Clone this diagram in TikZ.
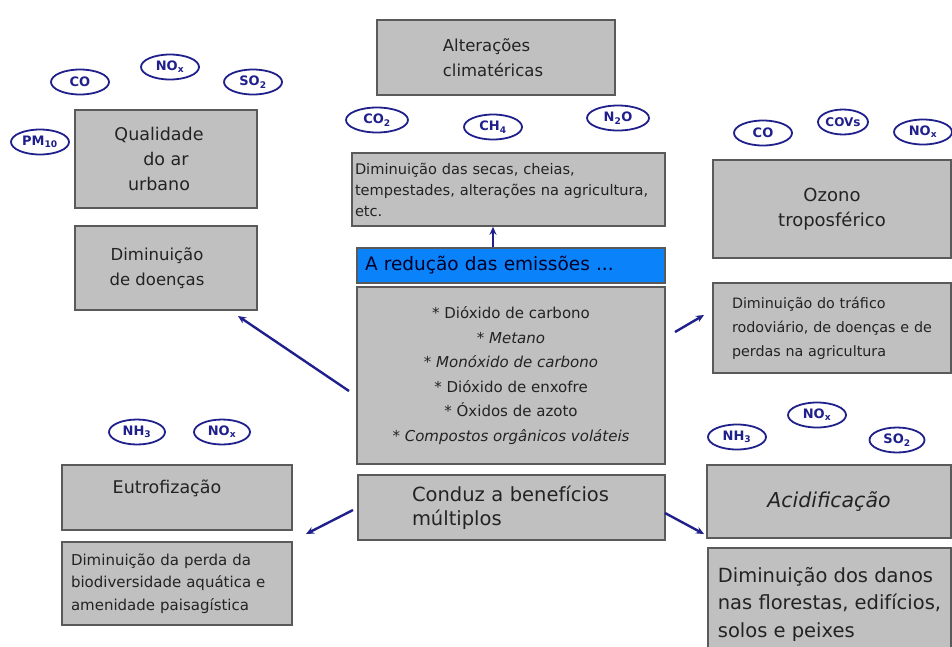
\documentclass[tikz,border=0pt]{standalone}
\usepackage{fontspec}
\setmainfont{DejaVu Sans}
\usetikzlibrary{shapes.geometric,arrows.meta}
\definecolor{boxgray}{RGB}{192,192,192}
\definecolor{boxline}{RGB}{90,90,90}
\definecolor{navy}{RGB}{32,32,140}
\definecolor{skyblue}{RGB}{10,130,250}
\definecolor{txt}{RGB}{35,35,35}
\tikzset{
  box/.style={draw=boxline, fill=boxgray, line width=1.6pt, inner sep=4pt, text=txt, align=center},
  gas/.style={ellipse, draw=navy, fill=white, line width=1.8pt, minimum width=58pt, minimum height=25pt, inner sep=0pt, text=navy, font=\fontsize{13}{14}\selectfont\bfseries},
  link/.style={draw=navy, line width=2.4pt, -{Stealth[length=8pt,width=7pt]}}
}
\begin{document}
\begin{tikzpicture}[x=1pt,y=-1pt]
\useasboundingbox (0,0) rectangle (952,646);
% boxes
\node[box, minimum width=182pt, minimum height=98pt, font=\fontsize{17.5}{25}\selectfont] (qual) at (166,159) {Qualidade\hspace*{14pt}\\do ar\hspace*{14pt}\\urbano\hspace*{14pt}};
\node[box, minimum width=182pt, minimum height=84pt, font=\fontsize{16.5}{25}\selectfont] (doenc) at (166,268) {Diminuição\hspace*{18pt}\\de doenças\hspace*{18pt}};
\node[box, minimum width=238pt, minimum height=75pt, align=left, font=\fontsize{16.5}{25}\selectfont] (alt) at (496,57.5) {\hspace*{-6pt}Alterações\\\hspace*{-6pt}climatéricas};
\node[box, minimum width=313pt, minimum height=73pt, text width=307pt, inner sep=3pt, align=left, font=\fontsize{14.6}{21}\selectfont] (secas) at (508.5,189.5) {Diminuição das secas, cheias,\\tempestades, alterações na agricultura,\\etc.};
\node[box, fill=skyblue, minimum width=308pt, minimum height=35pt, text width=292pt, align=left, font=\fontsize{18.5}{20}\selectfont, text=black!85!blue] (blue) at (511,265.5) {A redução das emissões ...};
\node[box, minimum width=308pt, minimum height=177pt, font=\fontsize{15}{24.5}\selectfont] (list) at (511,375.5) {* Dióxido de carbono\\\itshape * Metano\\\itshape * Monóxido de carbono\\* Dióxido de enxofre\\* Óxidos de azoto\\\itshape * Compostos orgânicos voláteis};
\node[box, minimum width=307pt, minimum height=65pt, text width=299pt, align=left, font=\fontsize{19.5}{24}\selectfont] (conduz) at (511.5,507.5) {\hspace*{50pt}Conduz a benefícios\\\hspace*{50pt}múltiplos};
\node[box, minimum width=238pt, minimum height=98pt, font=\fontsize{18}{25}\selectfont] (ozono) at (832,209) {Ozono\\troposférico};
\node[box, minimum width=238pt, minimum height=90pt, text width=228pt, align=left, font=\fontsize{14.3}{24}\selectfont] (traf) at (832,328) {\hspace*{14pt}Diminuição do tráfico\\\hspace*{14pt}rodoviário, de doenças e de\\\hspace*{14pt}perdas na agricultura};
\node[box, minimum width=230pt, minimum height=65pt, font=\fontsize{17.5}{21}\selectfont] (eutro) at (177,497.5) {Eutrofização\hspace*{20pt}\\\mbox{}};
\node[box, minimum width=230pt, minimum height=83pt, text width=222pt, align=left, font=\fontsize{15}{22.5}\selectfont] (perda) at (177,583.5) {\hspace*{5pt}Diminuição da perda da\\\hspace*{5pt}biodiversidade aquática e\\\hspace*{5pt}amenidade paisagística};
\node[box, minimum width=244pt, minimum height=73pt, font=\fontsize{20.5}{22}\selectfont\itshape] (acid) at (829,501.5) {Acidificação};
\node[box, minimum width=243pt, minimum height=112pt, align=left, font=\fontsize{19.5}{27.5}\selectfont] (danos) at (829.5,604) {Diminuição dos danos\\nas florestas, edifícios,\\solos e peixes};
% gases
\node[gas] (co1) at (80,82) {CO};
\node[gas] (nox1) at (170,67) {NO\textsubscript{x}};
\node[gas] (so2a) at (253,82) {SO\textsubscript{2}};
\node[gas] (pm) at (40,142) {PM\textsubscript{10}};
\node[gas, minimum width=62pt] (co2) at (377,120) {CO\textsubscript{2}};
\node[gas] (ch4) at (493,127) {CH\textsubscript{4}};
\node[gas, minimum width=62pt] (n2o) at (618,118) {N\textsubscript{2}O};
\node[gas] (co3) at (763,133) {CO};
\node[gas, minimum width=50pt, font=\fontsize{12}{13}\selectfont\bfseries] (covs) at (843,122) {COVs};
\node[gas] (nox2) at (923,132) {NO\textsubscript{x}};
\node[gas, minimum width=56pt] (nh3a) at (137,432) {NH\textsubscript{3}};
\node[gas, minimum width=56pt] (nox3) at (222,432) {NO\textsubscript{x}};
\node[gas] (nh3b) at (737,437) {NH\textsubscript{3}};
\node[gas] (nox4) at (817,415) {NO\textsubscript{x}};
\node[gas, minimum width=55pt] (so2b) at (897,440) {SO\textsubscript{2}};
% arrow ends
\coordinate (s1) at (349,391);
\coordinate (e1) at (238,316);
\coordinate (s2) at (675,332);
\coordinate (e2) at (704,315);
\coordinate (s3) at (353,510);
\coordinate (e3) at (306,534);
\coordinate (s4) at (665,513);
\coordinate (e4) at (704,534);
% connectors
\draw[link] (blue.north -| 493,0) -- (secas.south -| 493,0);
\draw[link] (s1) -- (e1);
\draw[link] (s2) -- (e2);
\draw[link] (s3) -- (e3);
\draw[link] (s4) -- (e4);
\end{tikzpicture}
\end{document}
